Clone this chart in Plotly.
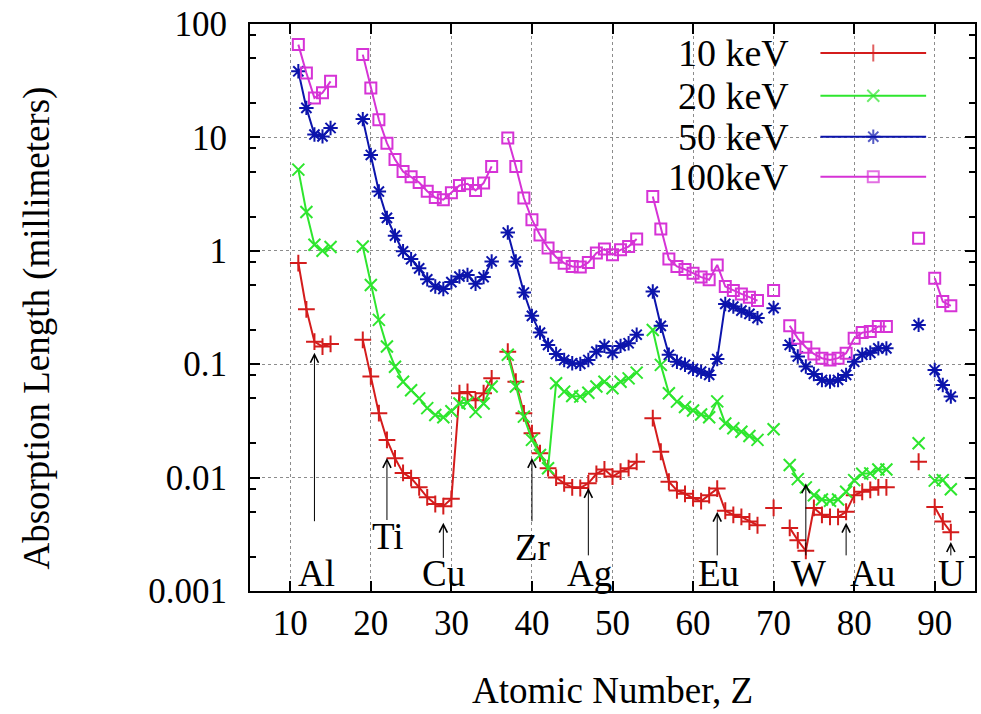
import math
import plotly.graph_objects as go

# ---------------- data ----------------
Z = [11, 12, 13, 14, 15,
     19, 20, 21, 22, 23, 24, 25, 26, 27, 28, 29, 30, 31, 32, 33, 34, 35,
     37, 38, 39, 40, 41, 42, 43, 44, 45, 46, 47, 48, 49, 50, 51, 52, 53,
     55, 56, 57, 58, 59, 60, 61, 62, 63, 64, 65, 66, 67, 68,
     70,
     72, 73, 74, 75, 76, 77, 78, 79, 80, 81, 82, 83, 84,
     88,
     90, 91, 92]

E10 = [0.78, 0.305, 0.158, 0.143, 0.151,
       0.164, 0.078, 0.037, 0.0215, 0.0148, 0.011, 0.0099, 0.0082, 0.0067, 0.00585, 0.0056, 0.0065,
       0.0555, 0.057, 0.048, 0.0555, 0.075,
       0.129, 0.070, 0.0369, 0.0246, 0.0164, 0.0121, 0.010, 0.0089, 0.0082, 0.0081, 0.0089, 0.0108,
       0.0118, 0.0102, 0.0113, 0.0121, 0.0138,
       0.0334, 0.0169, 0.0092, 0.0077, 0.0072, 0.0066, 0.0062, 0.0070, 0.0080, 0.0051, 0.0047,
       0.0045, 0.0041, 0.0038,
       0.0054,
       0.0036, 0.0028, 0.00226, 0.0054, 0.0047, 0.0045, 0.0045, 0.0050, 0.0070, 0.0075, 0.0078,
       0.0082, 0.0082,
       0.0138,
       0.0055, 0.0041, 0.0033]

E20 = [5.2, 2.2, 1.13, 1.0, 1.08,
       1.09, 0.50, 0.246, 0.143, 0.095, 0.070, 0.059, 0.050, 0.041, 0.0357, 0.034, 0.0385,
       0.045, 0.046, 0.038, 0.045, 0.0635,
       0.121, 0.0635, 0.0345, 0.0215, 0.0158, 0.0121, 0.068, 0.0573, 0.0525, 0.0518, 0.056, 0.0635,
       0.070, 0.0614, 0.070, 0.075, 0.0843,
       0.20, 0.0986, 0.0555, 0.0468, 0.042, 0.039, 0.036, 0.034, 0.047, 0.030, 0.0272,
       0.0254, 0.0233, 0.0215,
       0.0267,
       0.0129, 0.0097, 0.0082, 0.0070, 0.0064, 0.00625, 0.0064, 0.0075, 0.0095, 0.0108, 0.0109,
       0.0118, 0.0118,
       0.0201,
       0.0094, 0.0095, 0.0079]

E50 = [38.3, 18.2, 10.6, 10.2, 12.1,
       14.5, 7.0, 3.33, 1.95, 1.36, 0.99, 0.845, 0.70, 0.56, 0.484, 0.46, 0.53,
       0.593, 0.613, 0.512, 0.586, 0.805,
       1.45, 0.805, 0.429, 0.267, 0.19, 0.148, 0.123, 0.109, 0.102, 0.1007, 0.109, 0.129,
       0.145, 0.126, 0.145, 0.153, 0.182,
       0.437, 0.218, 0.121, 0.105, 0.099, 0.091, 0.086, 0.0805, 0.111, 0.34, 0.322,
       0.297, 0.278, 0.255,
       0.312,
       0.148, 0.117, 0.0953, 0.082, 0.0726, 0.0702, 0.0726, 0.0805, 0.105, 0.121, 0.126,
       0.138, 0.138,
       0.222,
       0.089, 0.0656, 0.0518]

E100 = [65.8, 37.0, 22.3, 24.7, 31.2,
        53.7, 27.3, 14.3, 8.9, 6.4, 5.0, 4.5, 4.0, 3.35, 2.95, 2.82, 3.25,
        3.77, 3.9, 3.41, 3.96, 5.55,
        9.88, 5.55, 2.92, 1.88, 1.38, 1.06, 0.879, 0.778, 0.727, 0.718, 0.789, 0.955,
        1.035, 0.923, 1.02, 1.09, 1.27,
        3.01, 1.56, 0.845, 0.727, 0.685, 0.635, 0.586, 0.555, 0.751, 0.484, 0.447,
        0.417, 0.39, 0.364,
        0.447,
        0.218, 0.169, 0.141, 0.123, 0.113, 0.109, 0.113, 0.125, 0.169, 0.19, 0.194,
        0.215, 0.215,
        1.29,
        0.574, 0.357, 0.327]

SERIES_NAMES = ["10 keV", "20 keV", "50 keV", "100keV"]
X_TICKS = [10, 20, 30, 40, 50, 60, 70, 80, 90]
Y_TICKS = [0.001, 0.01, 0.1, 1, 10, 100]
Y_TICK_TEXT = ["0.001", "0.01", "0.1", "1", "10", "100"]

# element labels: (name, label Z, label value, arrow Z, arrow head value, arrow tail value)
ELEMENTS = [
    ("Al", 13.2, 0.00144, 13, 0.126, 0.0040),
    ("Ti", 22.1, 0.0030, 22, 0.0149, 0.0041),
    ("Cu", 29.0, 0.00144, 29, 0.0040, 0.0019),
    ("Zr", 40.1, 0.00244, 40, 0.0149, 0.0040),
    ("Ag", 47.2, 0.00144, 47, 0.0081, 0.0020),
    ("Eu", 63.1, 0.00144, 63, 0.0050, 0.0020),
    ("W", 74.3, 0.00144, 74, 0.0089, 0.0020),
    ("Au", 82.3, 0.00144, 79, 0.0040, 0.0020),
    ("U", 92.1, 0.00144, 92, 0.0027, 0.0020),
]

# ---------------- styles ----------------
COLORS = ["#d41c1c", "#2ee62e", "#0c14ac", "#d633d6"]
SYMBOLS = ["cross-thin-open", "x-thin-open", "asterisk-open", "square-open"]
SIZES = [12, 12, 12, 11]
FONT = "Liberation Serif"

W, H = 981, 714
ML, MR, MT, MB = 250, 4, 24, 123
PW, PH = W - ML - MR, H - MT - MB


def px2paper_x(px):
    return (px - ML) / PW


def px2paper_y(py):
    return (H - MB - py) / PH


def with_gaps(z, v):
    xs, ys = [], []
    prev = None
    for zi, vi in zip(z, v):
        if prev is not None and zi - prev > 1:
            xs.append(None)
            ys.append(None)
        xs.append(zi)
        ys.append(vi)
        prev = zi
    return xs, ys


fig = go.Figure()
for name, vals, col, sym, sz in zip(SERIES_NAMES, [E10, E20, E50, E100], COLORS, SYMBOLS, SIZES):
    xs, ys = with_gaps(Z, vals)
    fig.add_trace(go.Scatter(
        x=xs, y=ys, mode="lines+markers", name=name, showlegend=False,
        line=dict(color=col, width=2),
        marker=dict(symbol=sym, size=sz, color=col, line=dict(color=col, width=2)),
    ))

# ---------------- custom legend (gnuplot style: text left, sample right) ----------------
LEG_ROWS_PX = [53, 95.7, 136.7, 176.7]
LEG_TEXT_RIGHT_PX = 792
LEG_LINE_PX = (822, 928)
for name, col, sym, sz, ry in zip(SERIES_NAMES, COLORS, SYMBOLS, SIZES, LEG_ROWS_PX):
    yv = px2paper_y(ry)
    x0, x1 = px2paper_x(LEG_LINE_PX[0]), px2paper_x(LEG_LINE_PX[1])
    fig.add_trace(go.Scatter(
        x=[x0, (x0 + x1) / 2, x1], y=[yv, yv, yv], xaxis="x2", yaxis="y2",
        mode="lines+markers", showlegend=False, hoverinfo="skip",
        line=dict(color=col, width=2),
        marker=dict(symbol=sym, size=[0, sz, 0], color=col, line=dict(color=col, width=2)),
    ))
    fig.add_annotation(
        xref="paper", yref="paper", x=px2paper_x(LEG_TEXT_RIGHT_PX), y=yv,
        text=name, showarrow=False, xanchor="right", yanchor="middle",
        font=dict(family=FONT, size=38, color="black"),
    )

fig.add_shape(type="rect", xref="paper", yref="paper",
              x0=px2paper_x(648), x1=px2paper_x(950), y0=px2paper_y(195), y1=1,
              fillcolor="white", line=dict(width=0), layer="between")

# ---------------- element labels & arrows ----------------
for name, lz, lv, az, ah, at in ELEMENTS:
    fig.add_annotation(x=lz, y=math.log10(lv), text=name, showarrow=False,
                       xanchor="center", yanchor="middle",
                       font=dict(family=FONT, size=37, color="black"))
    fig.add_annotation(x=az, y=math.log10(ah), ax=az, ay=math.log10(at),
                       axref="x", ayref="y", text="", showarrow=True,
                       arrowhead=5, arrowsize=1.6, arrowwidth=1, arrowcolor="black")

# ---------------- axis titles ----------------
fig.add_annotation(xref="paper", yref="paper", x=0.5, y=px2paper_y(690),
                   text="Atomic Number, Z", showarrow=False, xanchor="center", yanchor="middle",
                   font=dict(family=FONT, size=37, color="black"))
fig.add_annotation(xref="paper", yref="paper", x=px2paper_x(36), y=px2paper_y(328),
                   text="Absorption Length (millimeters)", showarrow=False, textangle=-90,
                   xanchor="center", yanchor="middle",
                   font=dict(family=FONT, size=37, color="black"))

minor_vals = [m * 10 ** e for e in range(-3, 2) for m in (2, 5, 8)]

fig.update_layout(
    width=W, height=H,
    margin=dict(l=ML, r=MR, t=MT, b=MB),
    paper_bgcolor="white", plot_bgcolor="white",
    showlegend=False,
    font=dict(family=FONT, size=35, color="black"),
    xaxis=dict(range=[5, 95], tickvals=X_TICKS, ticks="inside", ticklen=10, tickwidth=1.5,
               tickcolor="black", showline=True, linewidth=2, linecolor="black", mirror="allticks",
               showgrid=True, gridcolor="#8c8c8c", griddash="dot", gridwidth=1, zeroline=False,
               tickfont=dict(family=FONT, size=35)),
    yaxis=dict(type="log", range=[-3, 2], tickvals=Y_TICKS, ticktext=Y_TICK_TEXT,
               ticks="inside", ticklen=10, tickwidth=1.5, tickcolor="black",
               showline=True, linewidth=2, linecolor="black", mirror="allticks",
               showgrid=True, gridcolor="#8c8c8c", griddash="dot", gridwidth=1, zeroline=False,
               ticklabelstandoff=14,
               minor=dict(tickvals=minor_vals, ticks="inside", ticklen=6, tickwidth=1.5,
                          tickcolor="black", showgrid=False),
               tickfont=dict(family=FONT, size=35)),
    xaxis2=dict(overlaying="x", range=[0, 1], visible=False, fixedrange=True),
    yaxis2=dict(overlaying="y", range=[0, 1], visible=False, fixedrange=True),
)

fig.write_html("out.html")
